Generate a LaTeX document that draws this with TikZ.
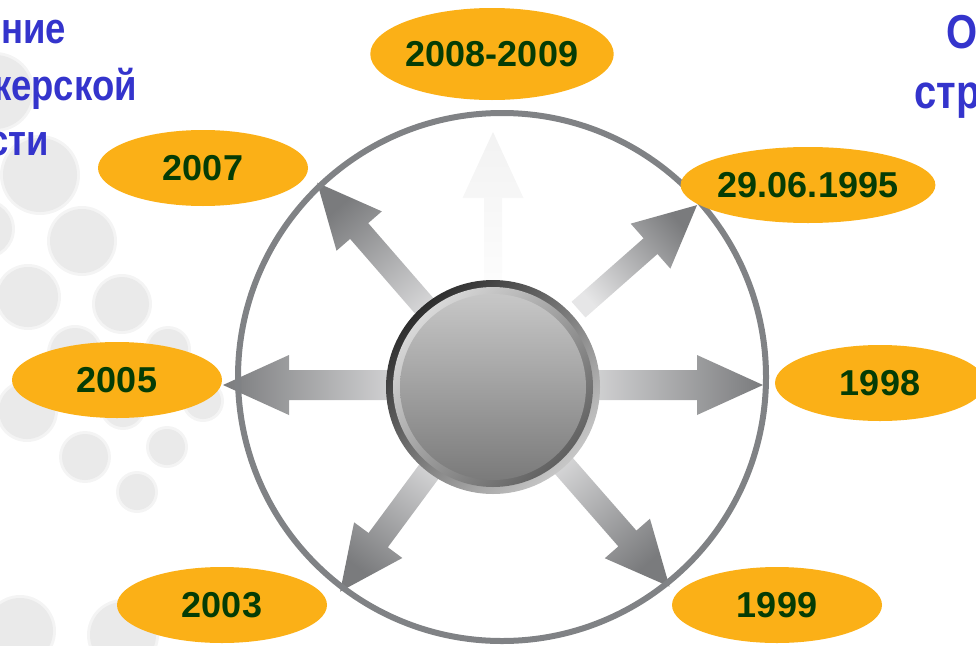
\documentclass[tikz,border=0pt]{standalone}
\usepackage{fontspec}
\setmainfont{Liberation Sans}
\usetikzlibrary{shapes.geometric}
\definecolor{orng}{RGB}{251,176,23}
\definecolor{dgreen}{RGB}{5,60,5}
\definecolor{ttl}{RGB}{52,52,204}
\definecolor{ringc}{RGB}{128,130,133}
\definecolor{bgc}{RGB}{234,234,234}
\definecolor{bgsoft}{RGB}{244,244,244}
\definecolor{arlight}{RGB}{230,230,231}
\definecolor{ardark}{RGB}{122,123,125}
\newcommand\myarrow[8]{%
  \pgfmathsetmacro\shang{#1-90}%
  \begin{scope}[shift={(493,385)}, rotate=#1]
    \shade[top color=#8, bottom color=#7, shading angle=\shang]
      (#2,-#4/2) -- (#3-#6,-#4/2) -- (#3-#6,-#5/2) -- (#3,0) --
      (#3-#6,#5/2) -- (#3-#6,#4/2) -- (#2,#4/2) -- cycle;
  \end{scope}}
\begin{document}
\begin{tikzpicture}[x=1pt,y=-1pt,
  yearbox/.style={ellipse, fill=orng, inner sep=0pt, minimum width=210pt,
    minimum height=76pt, text=dgreen, font=\bfseries\fontsize{36}{36}\selectfont},
  ttltext/.style={text=ttl, inner sep=0pt, font=\bfseries\fontsize{36.5}{36.5}\selectfont},
  bgdot/.style={fill=bgc}]
\useasboundingbox (0,0) rectangle (976,645);
\clip (0,0) rectangle (976,645);
% background decorative discs
\foreach \cx/\cy/\r in {-5/92/37, 40/175/37, -15/229/27, 82/241/32, 28/297/30, 122/304/27,
  75/353/25, 168/349/20, 27/411/28, 123/407/20, 203/401/18, 85/457/23,
  167/447/18, 137/492/18, 20/631/33, 123/635/33}
  {\fill[bgsoft] (\cx,\cy) circle[radius=\r+3];
   \fill[bgdot] (\cx,\cy) circle[radius=\r];}
% partial titles
\node[ttltext, anchor=base east] (t1) at (66,43) {\scalebox{1}[1.19]{ние}};
\node[ttltext, anchor=base east] (t2) at (137,100) {\scalebox{1}[1.19]{керской}};
\node[ttltext, anchor=base east] (t3) at (49,155) {\scalebox{1}[1.19]{сти}};
\node[ttltext, anchor=base west, font=\bfseries\fontsize{40}{40}\selectfont] (t4) at (946,48) {\scalebox{1}[1.19]{Ол}};
\node[ttltext, anchor=base west, font=\bfseries\fontsize{40}{40}\selectfont] (t5) at (914,108) {\scalebox{1}[1.19]{стр}};
% arrows
\myarrow{90}{60}{253}{18}{61}{66}{white}{white!95!black}
\myarrow{41.4}{114}{272}{21}{60}{62}{arlight}{ardark}
\myarrow{0}{60}{270}{30}{60}{66}{arlight}{ardark}
\myarrow{-48.8}{60}{268}{24}{60}{64}{arlight}{ardark}
\myarrow{-126.5}{60}{257}{24}{60}{64}{arlight}{ardark}
\myarrow{180}{60}{270}{30}{60}{66}{arlight}{ardark}
\myarrow{131}{60}{268}{24}{60}{64}{arlight}{ardark}
% big ring
\draw[ringc, line width=6pt] (502,377) circle[radius=264];
% central disc
\shade[top color=black!82, bottom color=black!22, shading angle=45] (493,387) circle[radius=107];
\shade[top color=black!15, bottom color=black!62, shading angle=45] (493,387) circle[radius=100];
\shade[top color=black!22, middle color=black!26, bottom color=black!52] (493,387) circle[radius=93];
% year ellipses
\node[yearbox, minimum width=241pt, minimum height=92pt] (y1) at (492,54) {2008-2009};
\node[yearbox] (y2) at (203,168) {2007};
\node[yearbox] (y3) at (808,185) {29.06.1995};
\node[yearbox] (y4) at (117,380) {2005};
\node[yearbox] (y5) at (880,383) {1998};
\node[yearbox] (y6) at (222,605) {2003};
\node[yearbox] (y7) at (777,605) {1999};
\end{tikzpicture}
\end{document}
